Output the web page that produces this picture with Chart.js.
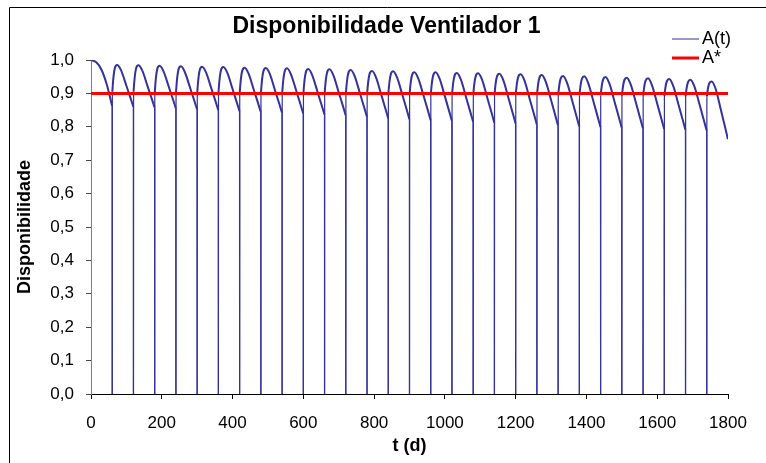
<!DOCTYPE html>
<html>
<head>
<meta charset="utf-8">
<script src="https://cdn.jsdelivr.net/npm/chart.js@4.4.1/dist/chart.umd.min.js"></script>
<style>
  html, body { margin: 0; padding: 0; background: #fff; }
  #wrap { width: 766px; height: 463px; position: relative; }
</style>
</head>
<body>
<div id="wrap"><canvas id="c" width="766" height="463"></canvas></div>
<script>
// ---------- data ----------
const chartTitle = 'Disponibilidade Ventilador 1';
const xTitle = 't (d)';
const yTitle = 'Disponibilidade';
const seriesLabels = ['A(t)', 'A*'];

const xTicks = [0, 200, 400, 600, 800, 1000, 1200, 1400, 1600, 1800];
const yTicks = [0, 0.1, 0.2, 0.3, 0.4, 0.5, 0.6, 0.7, 0.8, 0.9, 1.0];

// first cycle (t = 0 .. 60)
const firstCycleT = [0, 15, 30, 45, 59.7];
const firstCycleA = [1.000, 0.993, 0.970, 0.925, 0.862];

// maintenance instants (drop to 0), days
const maintDays = [60, 120, 180, 240, 300, 360, 420, 480, 540, 600, 660, 720, 780, 840, 900,
                   960, 1020, 1080, 1140, 1200, 1260, 1320, 1380, 1440, 1500, 1560, 1620, 1680, 1740];
// day offsets inside each cycle for the values below
const cycleOffsets = [0, 0.3, 14, 25, 40, 52, 59.7];
const recovA = [0.905, 0.905, 0.904, 0.904, 0.903, 0.903, 0.902, 0.902, 0.901, 0.901, 0.900, 0.900, 0.899, 0.899, 0.898,
                0.898, 0.897, 0.897, 0.896, 0.896, 0.895, 0.895, 0.894, 0.894, 0.893, 0.893, 0.892, 0.892, 0.891];
const peakA  = [0.985, 0.984, 0.983, 0.981, 0.980, 0.979, 0.977, 0.976, 0.975, 0.973, 0.972, 0.970, 0.967, 0.966, 0.963,
                0.963, 0.961, 0.960, 0.959, 0.957, 0.955, 0.952, 0.951, 0.949, 0.947, 0.945, 0.943, 0.941, 0.936];
const a25    = [0.969, 0.968, 0.966, 0.964, 0.963, 0.962, 0.960, 0.959, 0.957, 0.955, 0.954, 0.952, 0.949, 0.947, 0.944,
                0.944, 0.942, 0.941, 0.940, 0.938, 0.935, 0.932, 0.931, 0.929, 0.927, 0.925, 0.923, 0.921, 0.914];
const a40    = [0.923, 0.921, 0.919, 0.917, 0.915, 0.913, 0.911, 0.909, 0.908, 0.905, 0.903, 0.900, 0.897, 0.895, 0.892,
                0.891, 0.888, 0.886, 0.885, 0.882, 0.880, 0.877, 0.875, 0.873, 0.871, 0.869, 0.867, 0.865, 0.850];
const a52    = [0.885, 0.883, 0.881, 0.878, 0.876, 0.873, 0.871, 0.869, 0.867, 0.864, 0.862, 0.858, 0.854, 0.852, 0.849,
                0.847, 0.844, 0.842, 0.840, 0.837, 0.834, 0.831, 0.829, 0.827, 0.825, 0.823, 0.821, 0.819, 0.798];
const endA   = [0.860, 0.858, 0.855, 0.852, 0.850, 0.847, 0.845, 0.842, 0.840, 0.837, 0.834, 0.830, 0.826, 0.823, 0.820,
                0.818, 0.815, 0.812, 0.810, 0.807, 0.804, 0.801, 0.799, 0.797, 0.795, 0.793, 0.791, 0.789, 0.763];

const thresholdT = [0, 1800];
const thresholdA = [0.9, 0.9];

// ---------- build series ----------
// smooth arcs (one piece per cycle, separated by gaps)
const arcPoints = [];
firstCycleT.forEach((t, i) => arcPoints.push({ x: t, y: firstCycleA[i] }));
arcPoints.push({ x: firstCycleT[firstCycleT.length - 1] + 0.1, y: null });
maintDays.forEach((t0, k) => {
  const vals = [0, recovA[k], peakA[k], a25[k], a40[k], a52[k], endA[k]];
  cycleOffsets.forEach((off, j) => arcPoints.push({ x: t0 + off, y: vals[j] }));
  arcPoints.push({ x: t0 + cycleOffsets[cycleOffsets.length - 1] + 0.1, y: null });
});
// straight drops to zero at each maintenance
const dropPoints = [];
maintDays.forEach((t0, k) => {
  const before = k === 0 ? firstCycleA[firstCycleA.length - 1] : endA[k - 1];
  dropPoints.push({ x: t0 - 0.3, y: before });
  dropPoints.push({ x: t0, y: 0 });
  dropPoints.push({ x: t0 + 0.05, y: null });
});
const starPoints = thresholdT.map((t, i) => ({ x: t, y: thresholdA[i] }));

const FONT = "'Liberation Sans', Arial, sans-serif";
const blue = '#333399';
const red = '#ff0000';

const decor = {
  id: 'decor',
  afterDraw(chart) {
    const ctx = chart.ctx;
    ctx.save();
    // outer frame (left and top edges visible)
    ctx.strokeStyle = '#000';
    ctx.lineWidth = 1;
    ctx.beginPath();
    ctx.moveTo(9.5, 463);
    ctx.lineTo(9.5, 7.5);
    ctx.lineTo(766, 7.5);
    ctx.stroke();
    // title
    ctx.fillStyle = '#000';
    ctx.font = 'bold 23px ' + FONT;
    ctx.textAlign = 'center';
    ctx.textBaseline = 'middle';
    ctx.fillText(chartTitle, 386.5, 27);
    // legend (only the labelled datasets)
    const ds = chart.data.datasets.filter(d => d.inLegend);
    const rows = [39, 58];
    ctx.font = '18px ' + FONT;
    ctx.textAlign = 'left';
    ds.forEach((d, i) => {
      ctx.strokeStyle = d.borderColor;
      ctx.lineWidth = d.legendWidth;
      ctx.beginPath();
      ctx.moveTo(672, rows[i]);
      ctx.lineTo(699, rows[i]);
      ctx.stroke();
      ctx.fillStyle = '#000';
      ctx.fillText(d.label, 702, rows[i]);
    });
    ctx.restore();
  }
};

new Chart(document.getElementById('c'), {
  type: 'line',
  data: {
    datasets: [
      {
        label: seriesLabels[0],
        inLegend: true,
        data: arcPoints,
        borderColor: blue,
        borderWidth: 2,
        legendWidth: 1,
        pointRadius: 0,
        cubicInterpolationMode: 'monotone',
        spanGaps: false,
        order: 2,
        segment: {
          borderWidth: c => (c.p0.parsed.y < 0.5 || c.p1.parsed.y < 0.5) ? 1.2 : 2
        }
      },
      {
        label: seriesLabels[0] + ' ',
        inLegend: false,
        data: dropPoints,
        borderColor: blue,
        borderWidth: 1.2,
        pointRadius: 0,
        tension: 0,
        spanGaps: false,
        order: 1
      },
      {
        label: seriesLabels[1],
        inLegend: true,
        data: starPoints,
        borderColor: red,
        borderWidth: 3,
        legendWidth: 3,
        pointRadius: 0,
        order: 0
      }
    ]
  },
  options: {
    responsive: false,
    animation: false,
    devicePixelRatio: 1,
    layout: { padding: { left: 9, right: 38, top: 60, bottom: 0 } },
    plugins: {
      legend: { display: false },
      title: { display: false },
      tooltip: { enabled: false }
    },
    scales: {
      x: {
        type: 'linear',
        min: xTicks[0],
        max: xTicks[xTicks.length - 1],
        afterBuildTicks: s => { s.ticks = xTicks.map(v => ({ value: v })); },
        afterFit: s => { s.height = 69; },
        grid: { display: true, drawOnChartArea: false, drawTicks: true, tickLength: 5, tickColor: '#000', tickWidth: 1 },
        border: { display: true, color: '#000', width: 1 },
        ticks: { color: '#000', padding: 14, maxRotation: 0, font: { family: FONT, size: 17 },
                 callback: v => String(v) },
        title: { display: true, text: xTitle, color: '#000', padding: { top: 0, bottom: 6 },
                 font: { family: FONT, size: 18, weight: 'bold' } }
      },
      y: {
        type: 'linear',
        min: yTicks[0],
        max: yTicks[yTicks.length - 1],
        afterBuildTicks: s => { s.ticks = yTicks.map(v => ({ value: v })); },
        afterFit: s => { s.width = 82; },
        grid: { display: true, drawOnChartArea: false, drawTicks: true, tickLength: 5, tickColor: '#444', tickWidth: 1 },
        border: { display: true, color: '#808080', width: 1 },
        ticks: { color: '#000', padding: 12, font: { family: FONT, size: 17 },
                 callback: v => Number(v).toFixed(1).replace('.', ',') },
        title: { display: true, text: yTitle, color: '#000', padding: { top: 5, bottom: 0 },
                 font: { family: FONT, size: 18, weight: 'bold' } }
      }
    }
  },
  plugins: [decor]
});
</script>
</body>
</html>
